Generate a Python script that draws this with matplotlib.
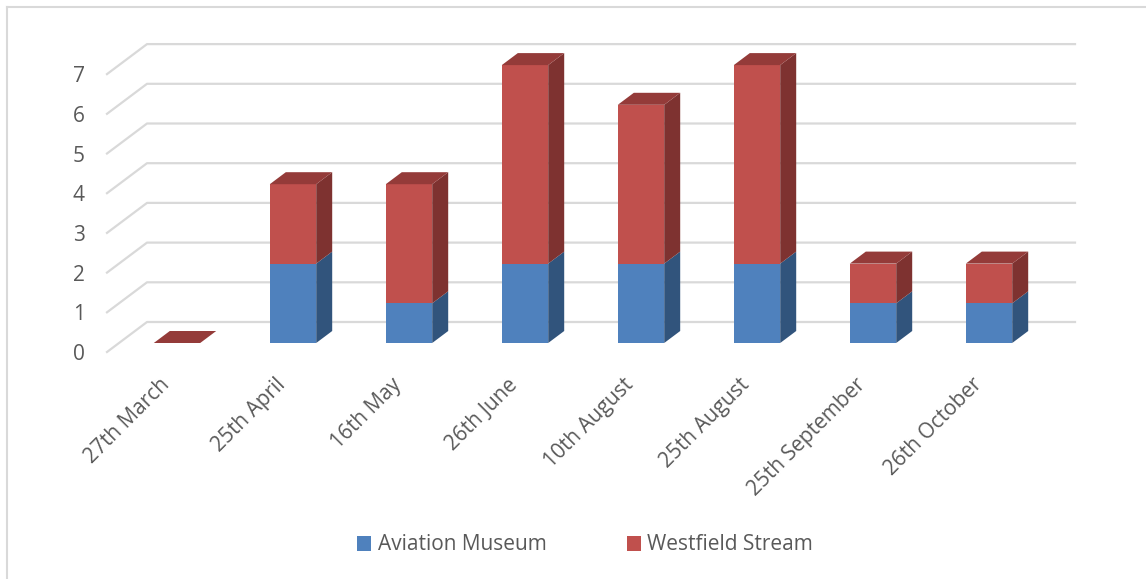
import matplotlib.pyplot as plt
from matplotlib.patches import Polygon, Patch
from matplotlib.lines import Line2D
import numpy as np

plt.rcParams['font.family'] = ['Open Sans', 'DejaVu Sans']

# data
dates = ['27th March', '25th April', '16th May', '26th June',
         '10th August', '25th August', '25th September', '26th October']
aviation = [0, 2, 1, 2, 2, 2, 1, 1]
westfield = [0, 2, 3, 5, 4, 5, 1, 1]
yticks = [0, 1, 2, 3, 4, 5, 6, 7]

blue, blue_side = '#4F81BD', '#31547C'
red, red_side, red_top = '#C0504D', '#7E3230', '#943B39'
grid_col = '#D9D9D9'
text_col = '#595959'
fs = 15

W, H = 1146, 579
fig = plt.figure(figsize=(W / 100, H / 100), dpi=100)

# axes placed in pixels: front plane of the 3d box
left_px, right_px, base_px = 107, 1035, 352
unit_px = 39.7
ymax = 8
ax = fig.add_axes([left_px / W, 1 - base_px / H,
                   (right_px - left_px) / W, ymax * unit_px / H])
n = len(dates)
ax.set_xlim(-0.5, n - 0.5)
ax.set_ylim(0, ymax)
for s in ax.spines.values():
    s.set_visible(False)

# depth of the box in data units
cat_px = (right_px - left_px) / n
ddx = 40 / cat_px
ddy = 30 / unit_px

# back wall gridlines with slanted left wall
for v in yticks:
    ax.plot([-0.5, -0.5 + ddx, n - 0.5 + ddx], [v, v + ddy, v + ddy],
            color=grid_col, lw=1.6, clip_on=False, zorder=1)

# bars sit in the middle 40% of the depth
w = 0.4
f0, f1 = 0.3, 0.7
bx, by = f0 * ddx, f0 * ddy
sx, sy = (f1 - f0) * ddx, (f1 - f0) * ddy


def seg(i, bottom, height, face, side, top=None):
    x0 = i + bx - w / 2
    x1 = i + bx + w / 2
    b = bottom + by
    t = bottom + height + by
    ax.bar(i + bx, height, width=w, bottom=b, color=face, zorder=3,
           clip_on=False)
    ax.add_patch(Polygon([(x1, b), (x1 + sx, b + sy), (x1 + sx, t + sy), (x1, t)],
                         closed=True, facecolor=side, edgecolor='none',
                         zorder=3, clip_on=False))
    if top is not None:
        ax.add_patch(Polygon([(x0, t), (x1, t), (x1 + sx, t + sy), (x0 + sx, t + sy)],
                             closed=True, facecolor=top, edgecolor='none',
                             zorder=3, clip_on=False))


for i in range(n):
    seg(i, 0, aviation[i], blue, blue_side)
    seg(i, aviation[i], westfield[i], red, red_side, red_top)

ax.set_yticks(yticks)
ax.set_yticklabels([str(v) for v in yticks])
ax.set_xticks(np.arange(n) - 0.05)
ax.set_xticklabels(dates, rotation=45, ha='right', va='top',
                   rotation_mode='anchor')
ax.tick_params(axis='both', length=0, labelsize=fs, colors=text_col)
ax.tick_params(axis='y', pad=16)
ax.tick_params(axis='x', pad=16)

# legend
handles = [Patch(facecolor=blue, edgecolor='none', label='Aviation Museum'),
           Patch(facecolor=red, edgecolor='none', label='Westfield Stream')]
fig.legend(handles=handles, loc='center', bbox_to_anchor=(585 / W, 1 - 545 / H),
           ncol=2, frameon=False, fontsize=fs, labelcolor=text_col,
           handlelength=0.7, handleheight=0.7, handletextpad=0.3,
           columnspacing=3.85)

# chart border (left and top edges)
fig.add_artist(Line2D([7 / W, 7 / W], [0, 1 - 7 / H], color='#D9D9D9', lw=1.5))
fig.add_artist(Line2D([7 / W, 1], [1 - 7 / H, 1 - 7 / H], color='#D9D9D9', lw=1.5))

fig.savefig('out.png', dpi=100)
